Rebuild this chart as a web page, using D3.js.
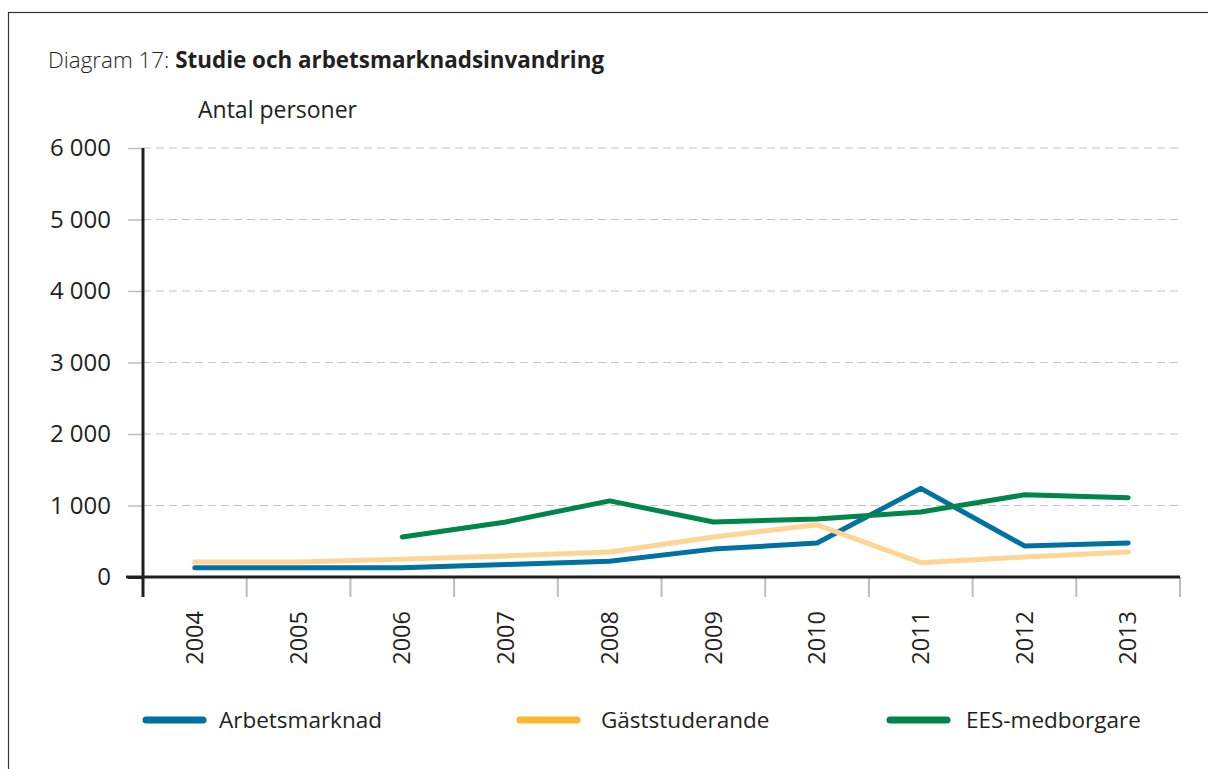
<!DOCTYPE html>
<html>
<head>
<meta charset="utf-8">
<script src="https://cdn.jsdelivr.net/npm/d3@7"></script>
<style>
  body { margin: 0; background: #fff; }
  svg { display: block; font-family: "Open Sans", sans-serif; }
</style>
</head>
<body>
<div id="chart"></div>
<script>
// Chart data
const years = ["2004", "2005", "2006", "2007", "2008", "2009", "2010", "2011", "2012", "2013"];
const arbetsmarknad = [130, 130, 130, 175, 220, 390, 475, 1240, 435, 475];
const gaststuderande = [210, 210, 250, 295, 350, 560, 730, 200, 280, 350];
const eesMedborgare = [null, null, 560, 770, 1065, 770, 810, 910, 1150, 1110];
const yTicks = [0, 1000, 2000, 3000, 4000, 5000, 6000];

const seriesNames = ["Arbetsmarknad", "Gäststuderande", "EES-medborgare"];
const seriesValues = [arbetsmarknad, gaststuderande, eesMedborgare];
const lineColors = ["#0071a0", "#fed594", "#00854a"];
const legendColors = ["#0071a0", "#fbb731", "#00854a"];

const width = 1208, height = 769;
const margin = { top: 148, right: 28, bottom: 192, left: 143 };
const textColor = "#231f20";

const svg = d3.select("#chart").append("svg")
    .attr("width", width)
    .attr("height", height);

// Outer frame (runs off the right and bottom edges)
svg.append("rect")
    .attr("x", 8.5).attr("y", 12.5)
    .attr("width", 1400).attr("height", 1000)
    .attr("fill", "none")
    .attr("stroke", "#333")
    .attr("stroke-width", 1.2);

// Scales
const x = d3.scaleBand()
    .domain(years)
    .range([margin.left, width - margin.right])
    .padding(0);

const y = d3.scaleLinear()
    .domain([0, 6000])
    .range([height - margin.bottom, margin.top]);

const fmt = d3.formatLocale({ decimal: ",", thousands: " ", grouping: [3], currency: ["", ""] }).format(",d");

// Title
const title = svg.append("text")
    .attr("x", 48).attr("y", 68)
    .attr("fill", textColor)
    .style("font-size", "22.4px");
title.append("tspan").style("font-weight", 300).text("Diagram 17: ");
title.append("tspan").style("font-weight", 700).text("Studie och arbetsmarknadsinvandring");

svg.append("text")
    .attr("x", 198).attr("y", 118)
    .attr("fill", textColor)
    .style("font-size", "23px")
    .text("Antal personer");

// Gridlines
svg.append("g")
    .selectAll("line")
    .data(yTicks.filter(d => d > 0))
    .join("line")
    .attr("x1", margin.left).attr("x2", width - margin.right)
    .attr("y1", d => y(d)).attr("y2", d => y(d))
    .attr("stroke", "#c4c4c4")
    .attr("stroke-width", 1.2)
    .attr("stroke-dasharray", "8,5");

// Y axis
const yAxis = svg.append("g")
    .attr("transform", `translate(${margin.left},0)`)
    .call(d3.axisLeft(y).tickValues(yTicks).tickSize(15).tickPadding(17).tickFormat(fmt));
yAxis.select(".domain").remove();
yAxis.selectAll(".tick line")
    .attr("stroke", d => d === 0 ? textColor : "#bdbdbd")
    .attr("stroke-width", d => d === 0 ? 3 : 1.5);
yAxis.selectAll(".tick text")
    .attr("fill", textColor)
    .style("font-size", "24px")
    .style("font-family", "'Open Sans', sans-serif");

// X axis category boundary ticks
const bounds = years.slice(1).map(d => x(d)).concat([width - margin.right]);
svg.append("g")
    .selectAll("line")
    .data(bounds)
    .join("line")
    .attr("x1", d => d).attr("x2", d => d)
    .attr("y1", y(0)).attr("y2", y(0) + 20)
    .attr("stroke", "#bdbdbd")
    .attr("stroke-width", 2);

// X axis baseline
svg.append("line")
    .attr("x1", margin.left - 17).attr("x2", width - margin.right)
    .attr("y1", y(0)).attr("y2", y(0))
    .attr("stroke", textColor)
    .attr("stroke-width", 3);

// Y axis vertical line
svg.append("line")
    .attr("x1", margin.left).attr("x2", margin.left)
    .attr("y1", y(6000)).attr("y2", y(0) + 20)
    .attr("stroke", textColor)
    .attr("stroke-width", 3);

// X labels (rotated)
svg.append("g")
    .selectAll("text")
    .data(years)
    .join("text")
    .attr("transform", d => `translate(${x(d) + x.bandwidth() / 2},${y(0) + 34}) rotate(-90)`)
    .attr("text-anchor", "end")
    .attr("dy", "0.35em")
    .attr("fill", textColor)
    .style("font-size", "23.5px")
    .text(d => d);

// Lines
const line = d3.line()
    .defined(d => d != null)
    .x((d, i) => x(years[i]) + x.bandwidth() / 2)
    .y(d => y(d));

svg.append("g")
    .selectAll("path")
    .data(seriesValues)
    .join("path")
    .attr("d", line)
    .attr("fill", "none")
    .attr("stroke", (d, i) => lineColors[i])
    .attr("stroke-width", 5)
    .attr("stroke-linecap", "round")
    .attr("stroke-linejoin", "round");

// Legend
const legendX = [146, 520, 890];
const legendTextX = [73, 81, 76];
const legend = svg.append("g")
    .selectAll("g")
    .data(seriesNames)
    .join("g")
    .attr("transform", (d, i) => `translate(${legendX[i]},720)`);

legend.append("line")
    .attr("x1", 0).attr("x2", 57)
    .attr("stroke", (d, i) => legendColors[i])
    .attr("stroke-width", 7)
    .attr("stroke-linecap", "round");

legend.append("text")
    .attr("x", (d, i) => legendTextX[i])
    .attr("dy", "0.35em")
    .attr("fill", textColor)
    .style("font-size", "22.5px")
    .text(d => d);
</script>
</body>
</html>
